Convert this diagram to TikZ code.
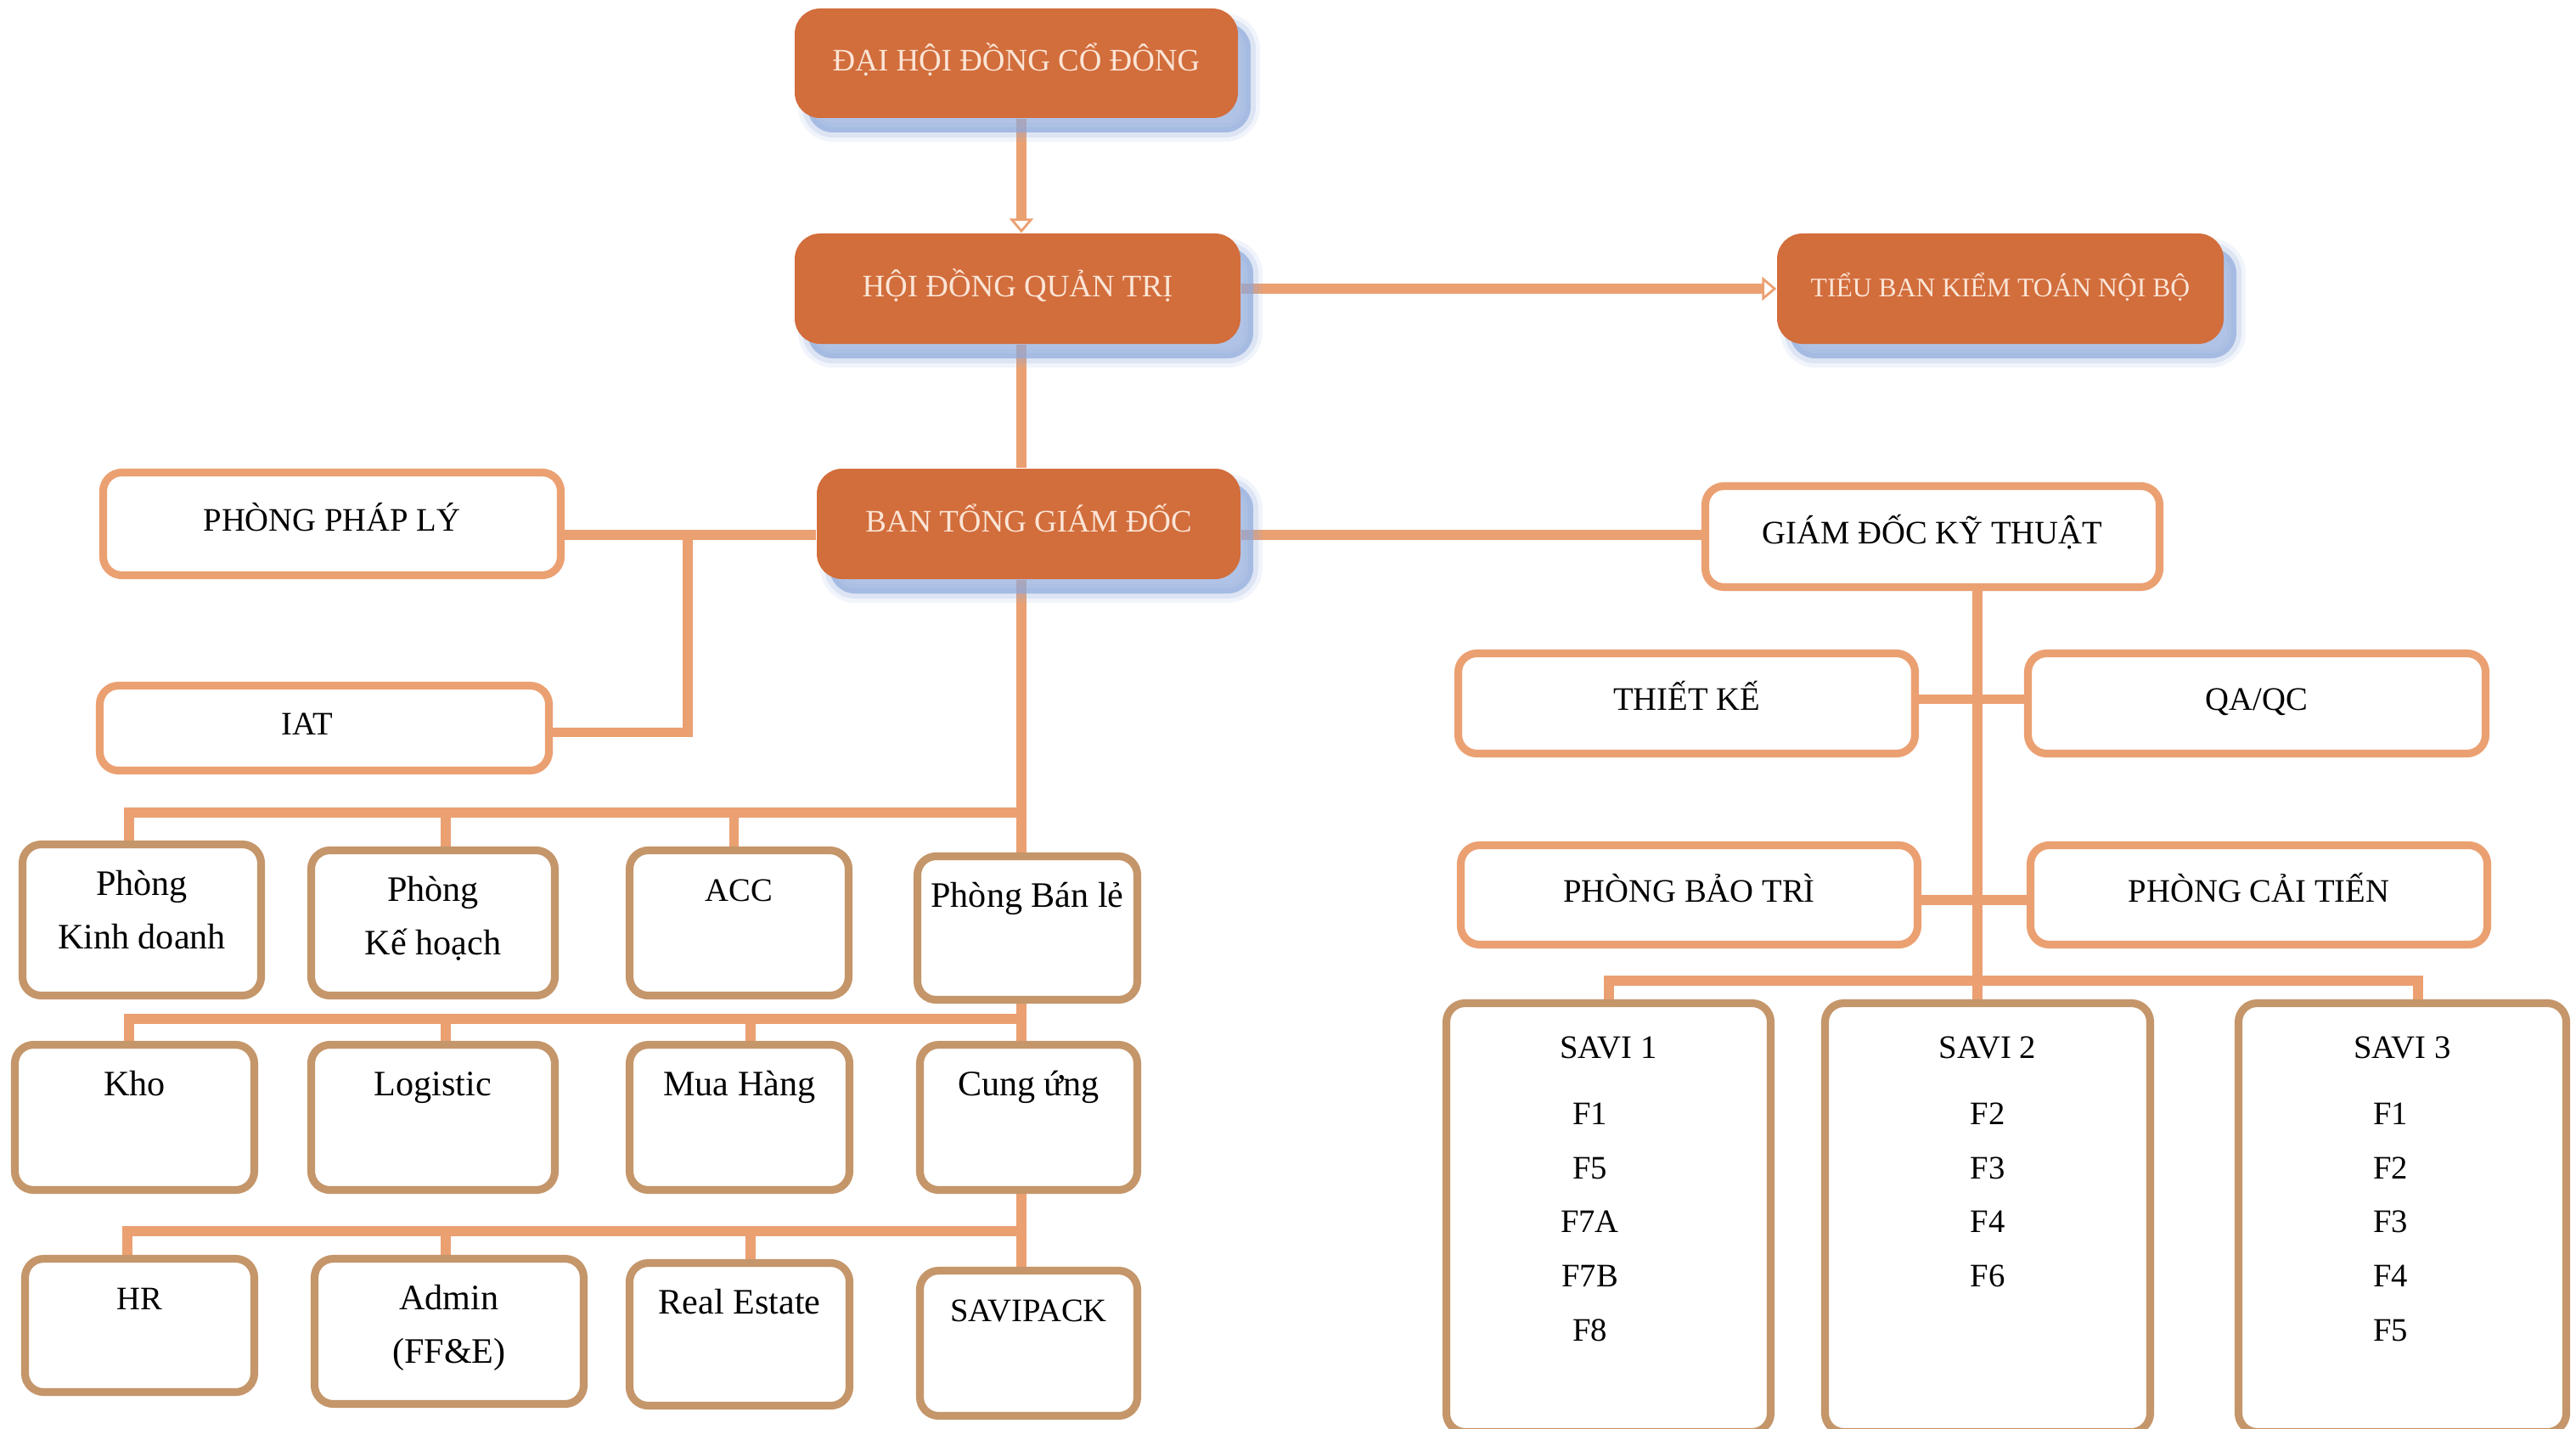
\documentclass[tikz,border=0pt]{standalone}
\usepackage{fontspec}
\setmainfont{Liberation Serif}
\usetikzlibrary{arrows.meta,positioning,calc,backgrounds}
\definecolor{rust}{HTML}{D26D3C}
\definecolor{peach}{HTML}{EBA072}
\definecolor{bark}{HTML}{C4966A}
\definecolor{haze}{HTML}{8EA9DB}
\definecolor{cream}{HTML}{FBE5D6}

\newcommand{\capsz}{\fontsize{11}{18}\selectfont}
\newcommand{\cell}[3]{\parbox[c][#2][t]{#1}{\centering\rule{0pt}{0.6cm}#3}}

\tikzset{
  shadowed/.style={
    preaction={draw=haze, line width=0.22cm, draw opacity=0.12, transform canvas={xshift=0.15cm, yshift=-0.17cm}},
    preaction={draw=haze, line width=0.12cm, draw opacity=0.2, transform canvas={xshift=0.15cm, yshift=-0.17cm}},
    preaction={fill=haze, fill opacity=0.7, transform canvas={xshift=0.15cm, yshift=-0.17cm}}},
  board/.style={shadowed, fill=rust, rounded corners=0.3cm, text=cream, inner sep=0pt,
      font=\fontsize{10.5}{12}\selectfont, text height=0.3cm, text depth=0.12cm},
  office/.style={draw=peach, line width=2.6pt, fill=white, rounded corners=0.22cm,
      inner sep=0pt, font=\fontsize{11}{13}\selectfont, text height=0.3cm, text depth=0.14cm},
  dept/.style={draw=bark, line width=2.6pt, fill=white, rounded corners=0.22cm,
      inner sep=0pt, font=\fontsize{12}{18}\selectfont},
  savi/.style={dept, font=\fontsize{11}{18.1}\selectfont},
  link/.style={draw=peach, line width=3.4pt},
  opentip/.style={-{Triangle[open, length=0.17cm, width=0.28cm, line width=0.8pt]}}
}

\begin{document}
\begin{tikzpicture}[x=1cm,y=-1cm]
  \useasboundingbox (0,0) rectangle (30.34,16.83);

  % top of the chart
  \node[board, minimum width=5.22cm, minimum height=1.29cm] (dh) at (11.97,0.745) {ĐẠI HỘI ĐỒNG CỔ ĐÔNG};
  \node[board, minimum width=5.25cm, minimum height=1.30cm] (hdqt) at (11.985,3.40) {HỘI ĐỒNG QUẢN TRỊ};
  \node[board, minimum width=5.26cm, minimum height=1.30cm, font=\fontsize{9}{11}\selectfont] (tb) at (23.56,3.40) {TIỂU BAN KIỂM TOÁN NỘI BỘ};
  \node[board, minimum width=4.99cm, minimum height=1.30cm] (btgd) at (12.115,6.17) {BAN TỔNG GIÁM ĐỐC};

  \node[office, minimum width=5.39cm, minimum height=1.21cm] (phaply) at (3.91,6.17) {PHÒNG PHÁP LÝ};
  \node[office, minimum width=5.29cm, minimum height=1.00cm] (iat) at (3.82,8.575) {\hspace*{-0.4cm}IAT};

  % left block
  \foreach \n/\x/\y/\w/\h/\t in {
      kd/1.67/10.835/2.81/1.78/{Phòng\\Kinh doanh},
      kh/5.10/10.87/2.87/1.71/{Phòng\\Kế hoạch},
      acc/8.705/10.87/2.58/1.71/{\capsz ACC},
      banle/12.10/10.93/2.59/1.69/{Phòng Bán lẻ},
      kho/1.585/13.16/2.82/1.71/{Kho},
      logistic/5.10/13.16/2.87/1.71/{Logistic},
      muahang/8.71/13.16/2.59/1.71/{Mua Hàng},
      cungung/12.115/13.16/2.56/1.71/{Cung ứng},
      hr/1.645/15.61/2.70/1.57/{\capsz HR},
      admin/5.29/15.68/3.17/1.71/{Admin\\(FF\&E)},
      realestate/8.71/15.715/2.59/1.68/{Real Estate},
      savipack/12.115/15.82/2.56/1.71/{\capsz SAVIPACK}}{
    \node[dept] (\n) at (\x,\y) {\cell{\w cm}{\h cm}{\t}};
  }

  % right block
  \node[office, minimum width=5.35cm, minimum height=1.19cm] (gdkt) at (22.76,6.32) {GIÁM ĐỐC KỸ THUẬT};
  \node[office, minimum width=5.38cm, minimum height=1.18cm] (thietke) at (19.865,8.285) {THIẾT KẾ};
  \node[office, minimum width=5.39cm, minimum height=1.18cm] (qaqc) at (26.58,8.285) {QA/QC};
  \node[office, minimum width=5.38cm, minimum height=1.17cm] (baotri) at (19.895,10.54) {PHÒNG BẢO TRÌ};
  \node[office, minimum width=5.38cm, minimum height=1.17cm] (caitien) at (26.605,10.54) {PHÒNG CẢI TIẾN};

  \node[savi] (savi1) at (18.945,14.34) {\parbox[c][5.05cm][t]{3.82cm}{\centering\rule{0pt}{0.645cm}SAVI 1\\[4.3pt]%
    \hspace*{-0.44cm}\begin{tabular}[t]{@{}c@{}}F1\\F5\\F7A\\F7B\\F8\end{tabular}}};
  \node[savi] (savi2) at (23.41,14.34) {\parbox[c][5.05cm][t]{3.83cm}{\centering\rule{0pt}{0.645cm}SAVI 2\\[4.3pt]%
    \begin{tabular}[t]{@{}c@{}}F2\\F3\\F4\\F6\end{tabular}}};
  \node[savi] (savi3) at (28.295,14.34) {\parbox[c][5.05cm][t]{3.86cm}{\centering\rule{0pt}{0.645cm}SAVI 3\\[4.3pt]%
    \hspace*{-0.28cm}\begin{tabular}[t]{@{}c@{}}F1\\F2\\F3\\F4\\F5\end{tabular}}};

  \coordinate (spine) at (12.03,0);
  \coordinate (bar1) at (12.03,9.57);
  \coordinate (bar2) at (12.03,12.00);
  \coordinate (bar3) at (12.03,14.50);
  \coordinate (lj) at (8.10,6.30);
  \coordinate (kt) at (23.29,0);
  \coordinate (savibar) at (23.29,11.55);

  \begin{scope}[on background layer]
    \draw[link, opentip] (dh.south -| spine) -- (hdqt.north -| spine);
    \draw[link, opentip] (hdqt.east) -- (tb.west);
    \draw[link] (hdqt.south -| spine) -- (btgd.north -| spine);
    \draw[link] ([yshift=-0.13cm]phaply.east) -- ([yshift=-0.13cm]btgd.west);
    \draw[link] ([yshift=-0.05cm]iat.east) -| (lj);
    \draw[link] ([yshift=-0.13cm]btgd.east) -- ([yshift=-0.13cm]btgd.east -| gdkt.west);
    % spine down the left block
    \draw[link] (btgd.south -| spine) -- (savipack.north -| spine);
    \foreach \n/\s in {kd/-0.15, kh/0.15, acc/-0.06}
      \draw[link] ([xshift=\s cm]\n.north) |- (bar1);
    \foreach \n/\s in {kho/-0.065, logistic/0.15, muahang/0.13}
      \draw[link] ([xshift=\s cm]\n.north) |- (bar2);
    \foreach \n/\s in {hr/-0.145, admin/-0.04, realestate/0.13}
      \draw[link] ([xshift=\s cm]\n.north) |- (bar3);
    % technical branch
    \draw[link] (gdkt.south -| kt) -- (savi2.north -| kt);
    \draw[link] ([yshift=0.05cm]thietke.east) -- ([yshift=0.05cm]qaqc.west);
    \draw[link] ([yshift=-0.06cm]baotri.east) -- ([yshift=-0.06cm]caitien.west);
    \draw[link] (savi1.north) |- (savibar) -| ([xshift=0.18cm]savi3.north);
  \end{scope}
\end{tikzpicture}
\end{document}
